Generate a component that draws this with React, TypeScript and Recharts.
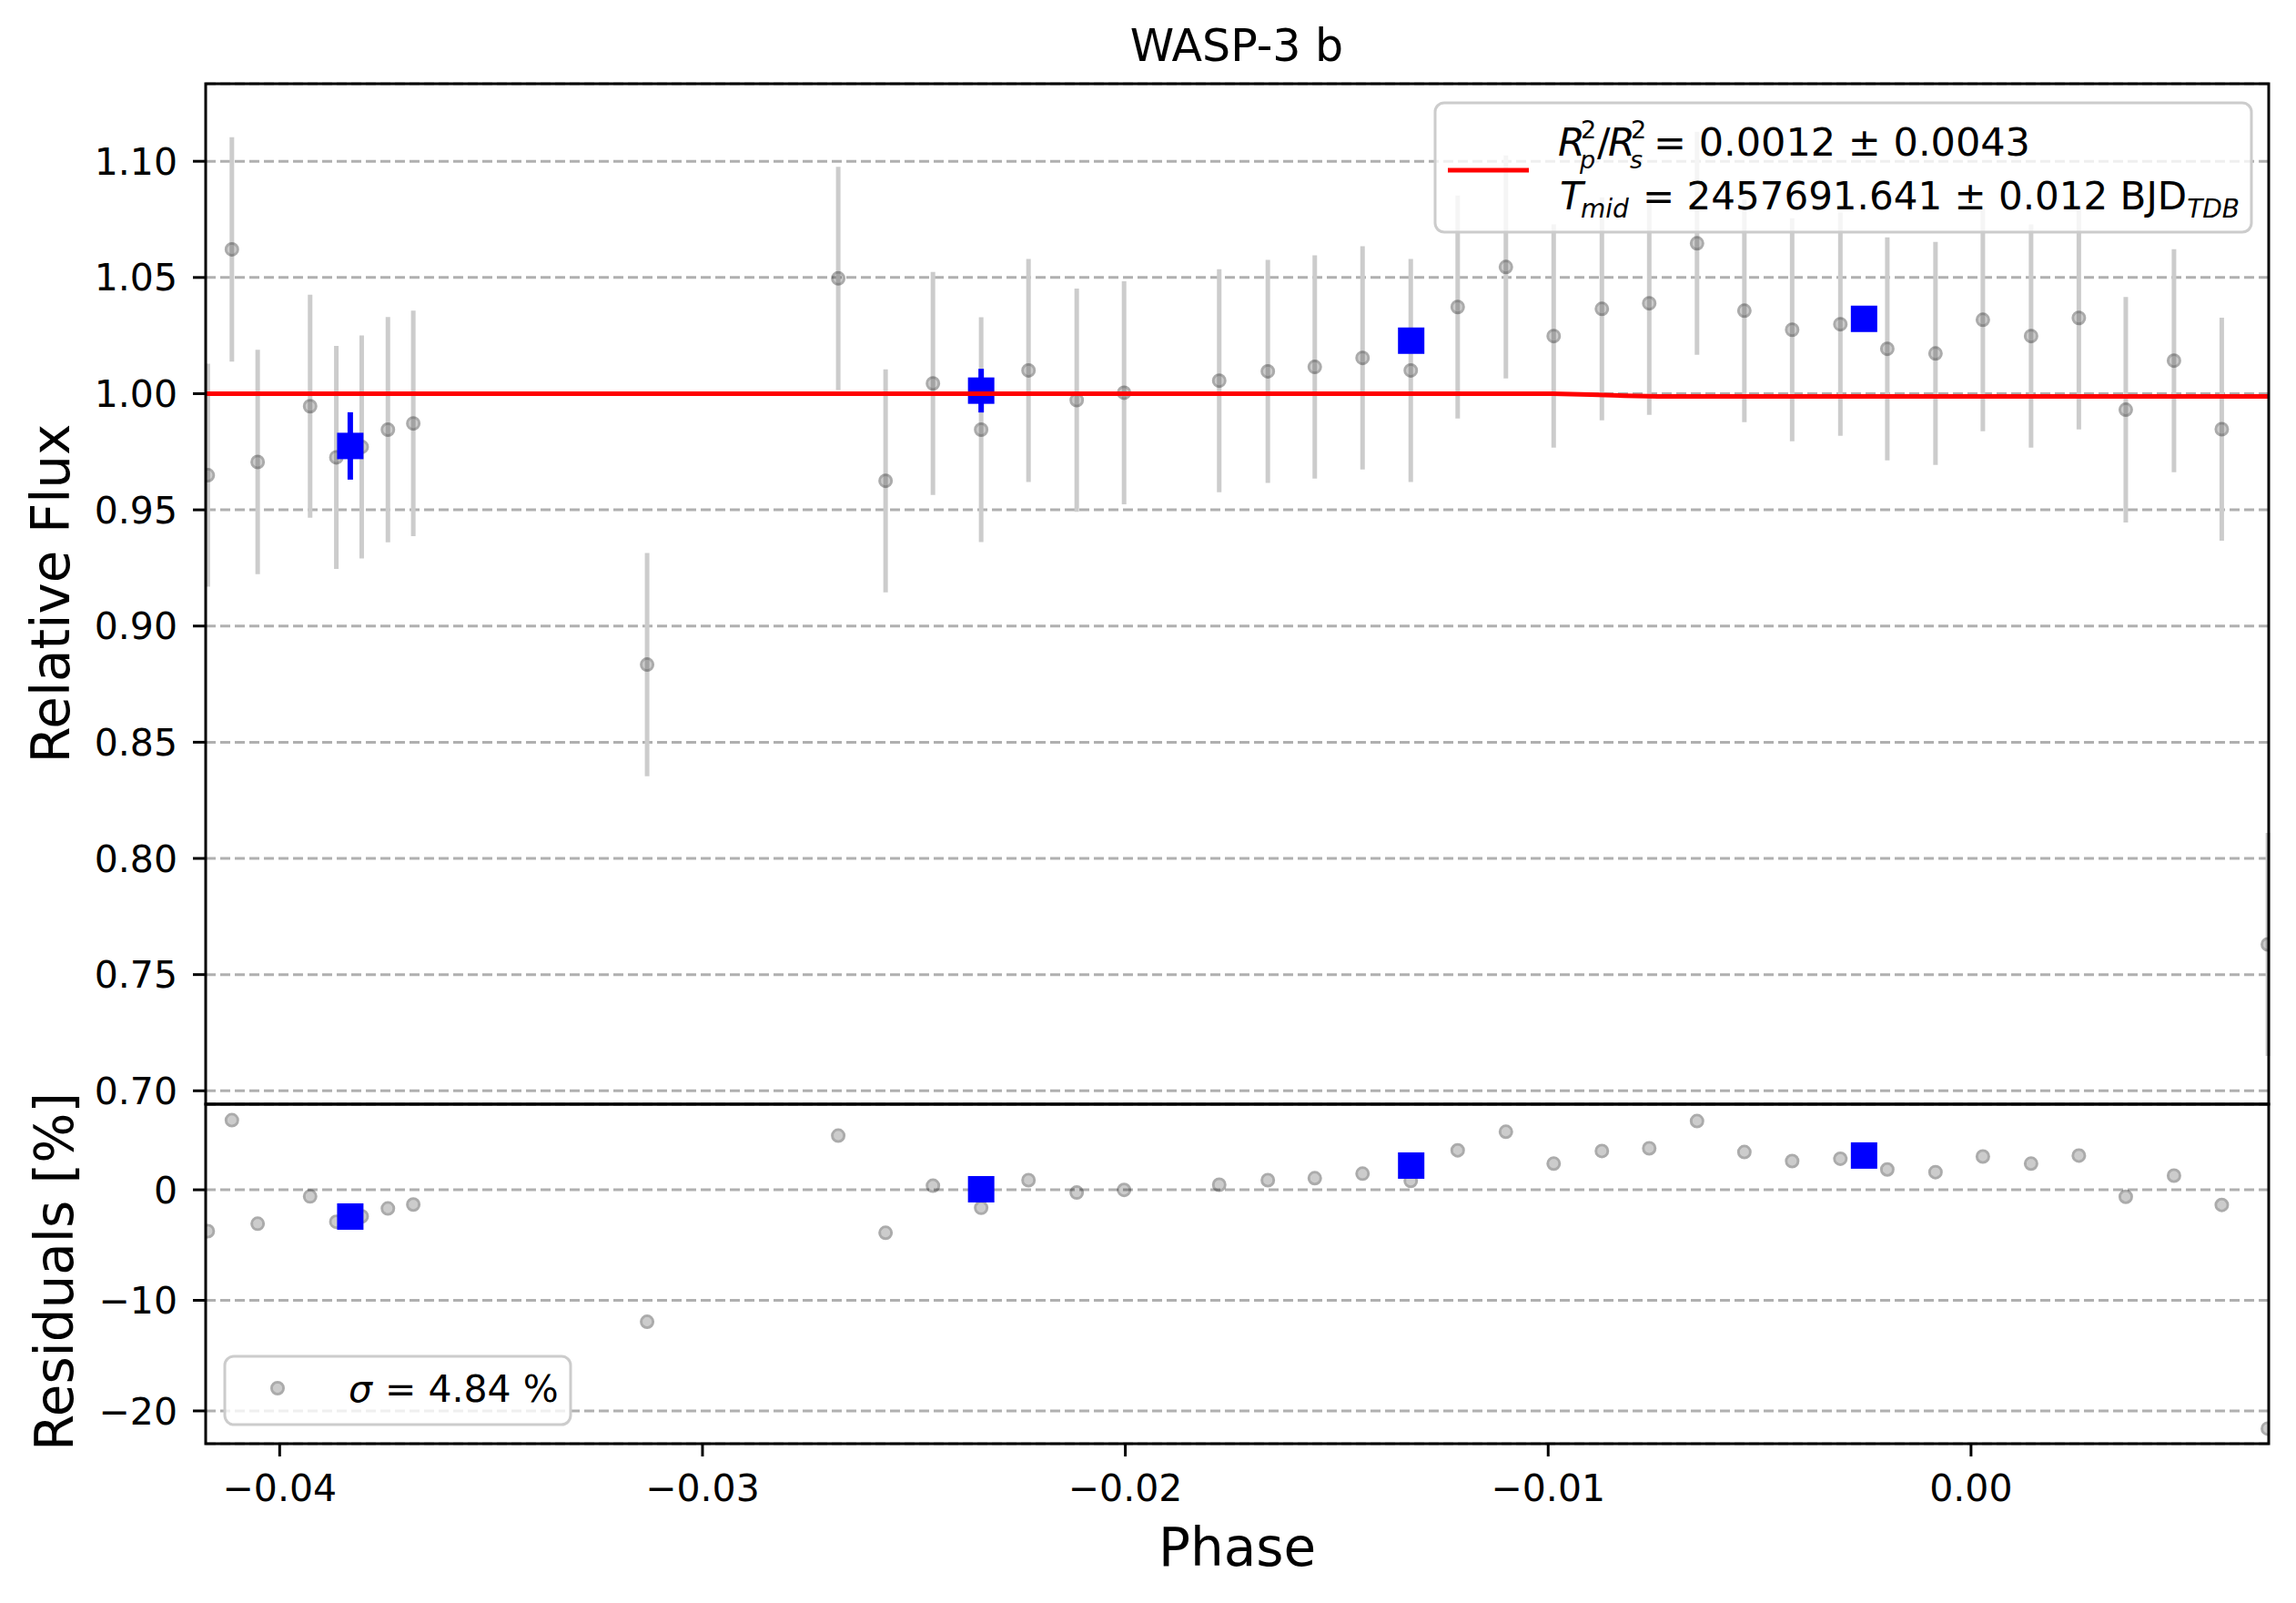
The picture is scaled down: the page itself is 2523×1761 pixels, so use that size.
import React from "react";
import {
  ComposedChart,
  Scatter,
  Line,
  XAxis,
  YAxis,
  CartesianGrid,
  ErrorBar,
} from "recharts";

// figure size and plot box (pixels)
const W = 2523;
const H = 1761;
const LEFT = 226;
const RIGHT = 2493;
const TOP = 92;
const MID = 1213;
const BOTTOM = 1586;
const PAD = 40; // room under the upper plot so the 0.70 label is not clipped

// unbinned points
const phase = [
  -0.0417, -0.04113, -0.04052, -0.03928, -0.03866, -0.03806, -0.03744, -0.03684,
  -0.03131, -0.02679, -0.02567, -0.02455, -0.02341, -0.02229, -0.02115, -0.02003,
  -0.01778, -0.01663, -0.01552, -0.01439, -0.01325, -0.01214, -0.011, -0.00987,
  -0.00873, -0.00761, -0.00648, -0.00536, -0.00423, -0.00309, -0.00198, -0.00084,
  0.00028, 0.00142, 0.00255, 0.00366, 0.0048, 0.00593, 0.00702,
];
const flux = [
  0.9649, 1.0621, 0.9706, 0.9946, 0.9726, 0.9771, 0.9845, 0.9872,
  0.8834, 1.0496, 0.9625, 1.0044, 0.9845, 1.01, 0.9972, 1.0004,
  1.0056, 1.0096, 1.0115, 1.0154, 1.01, 1.0373, 1.0545, 1.0248,
  1.0365, 1.0389, 1.0647, 1.0357, 1.0275, 1.0299, 1.0193, 1.0173,
  1.0318, 1.0248, 1.0326, 0.9931, 1.0142, 0.9847, 0.763,
];
const fluxErr = [
  0.048, 0.0483, 0.0483, 0.048, 0.048, 0.048, 0.0485, 0.0485,
  0.048, 0.048, 0.048, 0.048, 0.0484, 0.048, 0.048, 0.048,
  0.048, 0.048, 0.048, 0.048, 0.048, 0.048, 0.048, 0.048,
  0.048, 0.048, 0.048, 0.048, 0.048, 0.048, 0.048, 0.048,
  0.048, 0.048, 0.048, 0.0485, 0.048, 0.048, 0.048,
];
const resid = [
  -3.74, 6.3, -3.07, -0.6, -2.89, -2.4, -1.69, -1.33,
  -11.94, 4.9, -3.89, 0.37, -1.63, 0.87, -0.25, -0.01,
  0.46, 0.87, 1.05, 1.46, 0.81, 3.57, 5.25, 2.37,
  3.51, 3.75, 6.22, 3.42, 2.6, 2.81, 1.84, 1.6,
  3.01, 2.37, 3.1, -0.63, 1.28, -1.37, -21.6,
];

// binned points
const binPhase = [-0.03833, -0.02341, -0.01324, -0.00253];
const binFlux = [0.9775, 1.0013, 1.0228, 1.0322];
const binErr = [0.0145, 0.0094, 0.004, 0.004];
const binResid = [-2.42, 0.05, 2.19, 3.1];

// transit model
const modelPhase = [-0.0418, -0.0099, -0.009, -0.0082, -0.0074, 0.0071];
const modelFlux = [1.0, 1.0, 0.99955, 0.9991, 0.99885, 0.99885];

const phaseTicks = [-0.04, -0.03, -0.02, -0.01, 0];
const fluxTicks = [0.7, 0.75, 0.8, 0.85, 0.9, 0.95, 1.0, 1.05, 1.1];
const residTicks = [-20, -10, 0];

const FONT = "DejaVu Sans";
const MINUS = "\u2212";

const points = phase.map((x, i) => ({ x, y: flux[i], err: fluxErr[i] }));
const residPoints = phase.map((x, i) => ({ x, y: resid[i] }));
const bins = binPhase.map((x, i) => ({ x, y: binFlux[i], err: binErr[i] }));
const binResidPoints = binPhase.map((x, i) => ({ x, y: binResid[i] }));
const model = modelPhase.map((x, i) => ({ x, y: modelFlux[i] }));

// translucent grey marker: light fill, darker ring
const Dot = ({ cx, cy }: { cx: number; cy: number }) => (
  <g>
    <circle cx={cx} cy={cy} r={5} fill="#000" fillOpacity={0.2} />
    <circle cx={cx} cy={cy} r={6.5} fill="none" stroke="#000" strokeOpacity={0.33} strokeWidth={3} />
  </g>
);

const GrayDot = (p: any) => <Dot cx={p.cx} cy={p.cy} />;

const BlueSquare = (p: any) => (
  <rect x={p.cx - 14.5} y={p.cy - 14.5} width={29} height={29} fill="#0000ff" />
);

const tickStyle = { fontSize: 41, fill: "#000", fontFamily: FONT };
const tickLine = { stroke: "#000", strokeWidth: 3 };

const fmtPhase = (v: number) =>
  v === 0 ? "0.00" : (v < 0 ? MINUS : "") + Math.abs(v).toFixed(2);
const fmtResid = (v: number) => (v < 0 ? MINUS + Math.abs(v) : String(v));

export default function App() {
  return (
    <div
      style={{
        position: "absolute",
        left: 0,
        top: 0,
        width: W,
        height: H,
        background: "#fff",
        fontFamily: FONT,
      }}
    >
      {/* upper panel: light curve */}
      <div style={{ position: "absolute", left: 0, top: 0 }}>
        <ComposedChart
          width={W}
          height={MID + PAD}
          margin={{ top: TOP, right: W - RIGHT, bottom: PAD, left: 0 }}
        >
          <CartesianGrid
            vertical={false}
            stroke="#b0b0b0"
            strokeWidth={3}
            strokeDasharray="11 5"
          />
          <XAxis
            type="number"
            dataKey="x"
            domain={[-0.04175, 0.00704]}
            allowDataOverflow
            ticks={phaseTicks}
            hide
          />
          <YAxis
            type="number"
            dataKey="y"
            width={LEFT}
            domain={[0.69424, 1.13337]}
            allowDataOverflow
            ticks={fluxTicks}
            interval={0}
            tickFormatter={(v: number) => v.toFixed(2)}
            tick={tickStyle}
            tickLine={tickLine}
            tickSize={14}
            tickMargin={17}
            axisLine={false}
          />
          <Scatter data={points} shape={GrayDot} isAnimationActive={false}>
            <ErrorBar
              dataKey="err"
              direction="y"
              width={0}
              stroke="#cccccc"
              strokeWidth={5}
              isAnimationActive={false}
            />
          </Scatter>
          <Scatter data={bins} shape={BlueSquare} isAnimationActive={false}>
            <ErrorBar
              dataKey="err"
              direction="y"
              width={0}
              stroke="#0000ff"
              strokeWidth={6}
              isAnimationActive={false}
            />
          </Scatter>
          <Line
            data={model}
            dataKey="y"
            type="linear"
            stroke="#ff0000"
            strokeWidth={5}
            dot={false}
            activeDot={false}
            isAnimationActive={false}
            zIndex={700}
          />
        </ComposedChart>
      </div>

      {/* lower panel: residuals */}
      <div style={{ position: "absolute", left: 0, top: MID }}>
        <ComposedChart
          width={W}
          height={H - MID}
          margin={{ top: 0, right: W - RIGHT, bottom: 0, left: 0 }}
        >
          <CartesianGrid
            vertical={false}
            stroke="#b0b0b0"
            strokeWidth={3}
            strokeDasharray="11 5"
          />
          <XAxis
            type="number"
            dataKey="x"
            domain={[-0.04175, 0.00704]}
            allowDataOverflow
            ticks={phaseTicks}
            interval={0}
            height={H - BOTTOM}
            tickFormatter={fmtPhase}
            tick={tickStyle}
            tickLine={tickLine}
            tickSize={14}
            tickMargin={20}
            axisLine={false}
          />
          <YAxis
            type="number"
            dataKey="y"
            width={LEFT}
            domain={[-22.967, 7.746]}
            allowDataOverflow
            ticks={residTicks}
            interval={0}
            tickFormatter={fmtResid}
            tick={tickStyle}
            tickLine={tickLine}
            tickSize={14}
            tickMargin={17}
            axisLine={false}
          />
          <Scatter data={residPoints} shape={GrayDot} isAnimationActive={false} />
          <Scatter data={binResidPoints} shape={BlueSquare} isAnimationActive={false} />
        </ComposedChart>
      </div>

      {/* frames, labels and legends */}
      <svg
        width={W}
        height={H}
        style={{ position: "absolute", left: 0, top: 0, pointerEvents: "none" }}
        fontFamily={FONT}
      >
        <rect x={LEFT} y={TOP} width={RIGHT - LEFT} height={MID - TOP} fill="none" stroke="#000" strokeWidth={3} />
        <rect x={LEFT} y={MID} width={RIGHT - LEFT} height={BOTTOM - MID} fill="none" stroke="#000" strokeWidth={3} />

        <text x={1359} y={67} fontSize={49} textAnchor="middle">
          WASP-3 b
        </text>
        <text x={1359.5} y={1720} fontSize={58} textAnchor="middle">
          Phase
        </text>
        <text transform="translate(76,652) rotate(-90)" fontSize={58} textAnchor="middle">
          Relative Flux
        </text>
        <text transform="translate(80,1397) rotate(-90)" fontSize={58} textAnchor="middle">
          Residuals [%]
        </text>

        {/* fit legend */}
        <rect x={1577} y={113} width={897} height={142} rx={10} fill="#fff" fillOpacity={0.8} stroke="#cccccc" strokeWidth={3} />
        <line x1={1591} x2={1680} y1={187} y2={187} stroke="#ff0000" strokeWidth={5} />
        <text fontSize={43}>
          <tspan x={1712} y={171} fontStyle="italic">R</tspan>
          <tspan x={1737} y={152} fontSize={27}>2</tspan>
          <tspan x={1736} y={185} fontSize={27} fontStyle="italic">p</tspan>
          <tspan x={1755} y={171}>/</tspan>
          <tspan x={1767} y={171} fontStyle="italic">R</tspan>
          <tspan x={1792} y={152} fontSize={27}>2</tspan>
          <tspan x={1791} y={185} fontSize={27} fontStyle="italic">s</tspan>
          <tspan x={1817} y={171}>= 0.0012 ± 0.0043</tspan>
        </text>
        <text fontSize={42}>
          <tspan x={1714} y={230} fontStyle="italic">T</tspan>
          <tspan x={1737} y={239} fontSize={28} fontStyle="italic">mid</tspan>
          <tspan x={1805} y={230}>= 2457691.641 ± 0.012 BJD</tspan>
          <tspan dy={9} fontSize={28} fontStyle="italic">TDB</tspan>
        </text>

        {/* residual legend */}
        <rect x={247} y={1490} width={380} height={75} rx={10} fill="#fff" fillOpacity={0.8} stroke="#cccccc" strokeWidth={3} />
        <Dot cx={305} cy={1525} />
        <text fontSize={41}>
          <tspan x={383} y={1540} fontStyle="italic">σ</tspan>
          <tspan x={423} y={1540}>= 4.84 %</tspan>
        </text>
      </svg>
    </div>
  );
}
